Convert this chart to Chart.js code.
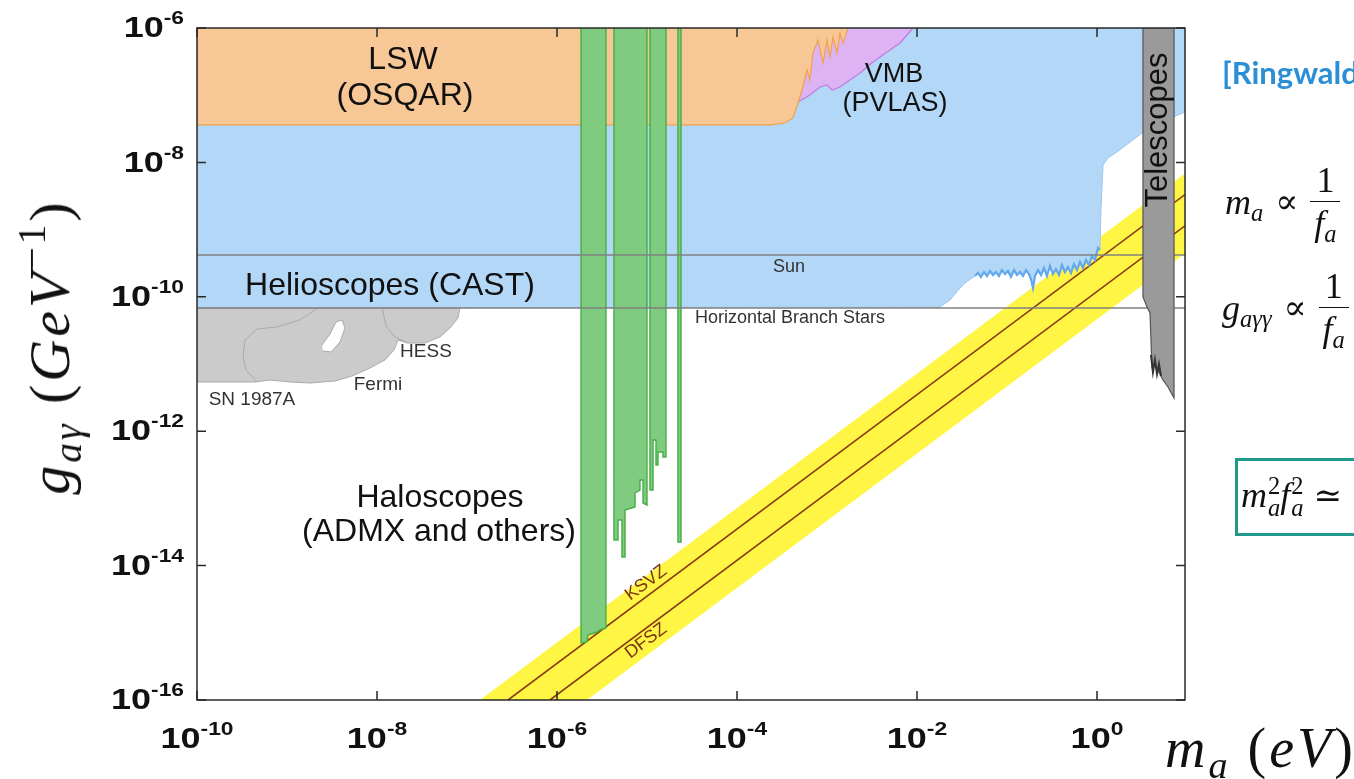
<!DOCTYPE html>
<html>
<head>
<meta charset="utf-8">
<script src="https://cdn.jsdelivr.net/npm/chart.js@4.4.1/dist/chart.umd.min.js"></script>
<style>
  html, body { margin: 0; padding: 0; background: #fff; }
  body { width: 1354px; height: 779px; overflow: hidden; position: relative; }
  #plot { position: absolute; left: 0; top: 0; }
  .math { position: absolute; font-family: "Liberation Serif", "DejaVu Serif", serif; font-style: italic; color: #111; white-space: nowrap; line-height: 1; }
  .up { font-style: normal; }
  .sub { font-size: 0.68em; position: relative; top: 0.3em; }
  .sup { font-size: 0.68em; position: relative; top: -0.6em; font-style: normal; }
  .ss { display: inline-flex; flex-direction: column; font-size: 0.68em; line-height: 0.9; vertical-align: 0.55em; margin-left: 1px; }
  .row { display: flex; align-items: center; font-size: 36px; }
  .rel { font-style: normal; margin: 0 12px; font-family: "DejaVu Serif", serif; font-size: 0.95em; }
  .frac { display: inline-flex; flex-direction: column; align-items: center; }
  .frac .num { font-style: normal; border-bottom: 1.6px solid #111; padding: 0 6px 3px; }
  .frac .den { padding-top: 3px; }
  #cite { position: absolute; left: 1222px; top: 57px; font: bold 31px "Lato", "Open Sans", sans-serif; line-height: 1; color: #2b8fd6; white-space: nowrap; }
  #box { position: absolute; left: 1235px; top: 458px; width: 150px; height: 72px; border: 3px solid #21998a; display: flex; align-items: center; font-size: 36px; }
  #ytitle { left: 50px; top: 347px; transform: translate(-50%, -50%) rotate(-90deg); font-size: 58px; letter-spacing: 3px; }
  #xtitle { left: 1165px; top: 720px; font-size: 56px; letter-spacing: 3px; }
</style>
</head>
<body>
<canvas id="plot" width="1354" height="779"></canvas>

<div id="ytitle" class="math">g<span class="sub">aγ</span> <span class="up">(</span>GeV<span class="sup">−1</span><span class="up">)</span></div>
<div id="xtitle" class="math">m<span class="sub">a</span> <span class="up">(</span>eV<span class="up">)</span></div>

<div id="cite">[Ringwald</div>
<div class="math row" style="left:1225px; top:162px;">
  <span>m<span class="sub">a</span></span>
  <span class="rel">∝</span>
  <span class="frac"><span class="num">1</span><span class="den">f<span class="sub">a</span></span></span>
</div>
<div class="math row" style="left:1222px; top:268px;">
  <span>g<span class="sub">aγγ</span></span>
  <span class="rel">∝</span>
  <span class="frac"><span class="num">1</span><span class="den">f<span class="sub">a</span></span></span>
</div>
<div id="box" class="math"><span style="padding-left:3px">m<span class="ss"><span class="up">2</span><span>a</span></span>f<span class="ss"><span class="up">2</span><span>a</span></span><span class="rel" style="margin:0 0 0 10px">≃</span></span></div>

<script>
// axis ranges, as powers of ten
const massRange = [-10, 0.978];
const couplingRange = [-16, -6];
const massTicks = [-10, -8, -6, -4, -2, 0];
const couplingTicks = [-16, -14, -12, -10, -8, -6];

// outlines: [log10 m_a (eV), log10 g (1/GeV)]
const lswEdge = [[-10, -6], [-10, -7.443], [-3.633, -7.443], [-3.467, -7.414], [-3.378, -7.339], [-3.322, -7.116],
  [-3.267, -6.878], [-3.222, -6.625], [-3.189, -6.774], [-3.156, -6.372], [-3.1, -6.179], [-3.044, -6.521],
  [-3.0, -6.179], [-2.967, -6.432], [-2.933, -6.134], [-2.889, -6.372], [-2.856, -6.074], [-2.822, -6.223], [-2.767, -6]];
const vmbEdge = [[-3.356, -6], [-3.322, -7.101], [-3.189, -6.997], [-3.078, -6.878], [-3.0, -6.848], [-2.944, -6.923],
  [-2.856, -6.878], [-2.778, -6.804], [-2.633, -6.67], [-2.489, -6.506], [-2.333, -6.357], [-2.189, -6.223], [-2.044, -6]];
const helioTop = [[-10, -6], [0.978, -6], [0.978, -7.25], [0.589, -7.473], [0.222, -7.845], [0.122, -7.935],
  [0.067, -8.039], [0.044, -8.708], [0.033, -9.304]];
const helioNoise = [[0.033, -9.304], [0.011, -9.274], [-0.022, -9.452], [-0.056, -9.393], [-0.089, -9.527], [-0.122, -9.452],
  [-0.156, -9.571], [-0.189, -9.482], [-0.222, -9.601], [-0.256, -9.512], [-0.289, -9.646], [-0.322, -9.557],
  [-0.356, -9.631], [-0.389, -9.527], [-0.422, -9.676], [-0.456, -9.586], [-0.489, -9.661], [-0.522, -9.542],
  [-0.556, -9.69], [-0.589, -9.571], [-0.622, -9.676], [-0.656, -9.601], [-0.689, -9.69], [-0.711, -9.869],
  [-0.733, -9.735], [-0.756, -9.661], [-0.789, -9.601], [-0.822, -9.69], [-0.856, -9.631], [-0.889, -9.676],
  [-0.922, -9.601], [-0.956, -9.705], [-0.989, -9.616], [-1.022, -9.661], [-1.056, -9.601], [-1.089, -9.69],
  [-1.122, -9.631], [-1.156, -9.676], [-1.189, -9.616], [-1.222, -9.69], [-1.256, -9.631], [-1.289, -9.705],
  [-1.322, -9.646], [-1.356, -9.69]];
const helioBottom = [[-1.467, -9.795], [-1.522, -9.869], [-1.633, -10.048], [-1.744, -10.152], [-10, -10.167]];
const astroEdge = [[-10, -10.167], [-7.078, -10.167], [-7.1, -10.315], [-7.189, -10.464], [-7.3, -10.598], [-7.467, -10.688],
  [-7.656, -10.688], [-7.767, -10.643], [-7.811, -10.792], [-7.911, -10.94], [-8.078, -11.06], [-8.278, -11.179],
  [-8.467, -11.253], [-8.744, -11.283], [-8.967, -11.268], [-9.189, -11.238], [-9.356, -11.268], [-10, -11.268]];
const astroHole = [[-8.6, -10.807], [-8.511, -10.821], [-8.411, -10.673], [-8.356, -10.464], [-8.389, -10.345],
  [-8.456, -10.375], [-8.522, -10.554], [-8.611, -10.717]];
const fermiOutline = [[-9.333, -11.268], [-9.456, -11.089], [-9.489, -10.896], [-9.467, -10.643], [-9.333, -10.479],
  [-9.111, -10.449], [-8.856, -10.345], [-8.656, -10.167]];
const hessOutline = [[-7.944, -10.167], [-7.9, -10.435], [-7.8, -10.598], [-7.656, -10.688]];
const haloBar1 = [[-5.733, -6], [-5.733, -15.152], [-5.667, -15.137], [-5.656, -15.033], [-5.556, -14.988],
  [-5.522, -14.958], [-5.456, -14.929], [-5.456, -6]];
const haloBar2 = [[-5.367, -6], [-5.367, -13.619], [-5.322, -13.619], [-5.322, -13.321], [-5.278, -13.321],
  [-5.278, -13.872], [-5.244, -13.872], [-5.244, -13.173], [-5.133, -13.128], [-5.133, -12.92], [-5.078, -12.875],
  [-5.078, -12.726], [-5.044, -12.726], [-5.044, -13.068], [-5.0, -13.098], [-5.0, -6]];
const haloBar3 = [[-4.967, -6], [-4.967, -12.875], [-4.933, -12.875], [-4.933, -12.131], [-4.9, -12.131],
  [-4.9, -12.503], [-4.878, -12.503], [-4.878, -12.31], [-4.822, -12.31], [-4.822, -12.384], [-4.789, -12.384], [-4.789, -6]];
const haloBar4 = [[-4.656, -6], [-4.656, -13.649], [-4.622, -13.649], [-4.622, -6]];
const modelBand = [[-6.856, -16], [0.978, -8.166], [0.978, -9.355], [-5.667, -16]];
const ksvzLine = [[-6.544, -16], [0.978, -8.478]];
const dfszLine = [[-6.078, -16], [0.978, -8.944]];
const sunLine = [[-10, -9.378], [0.978, -9.378]];
const hbLine = [[-10, -10.167], [0.978, -10.167]];
const telescopeEdge = [[0.511, -6], [0.856, -6], [0.856, -11.506], [0.789, -11.342], [0.733, -11.238], [0.678, -11.089],
  [0.644, -10.985], [0.611, -11.045], [0.589, -10.241], [0.556, -10.152], [0.511, -10.003], [0.511, -6]];
const telescopeTail = [[0.6, -10.866], [0.622, -11.119], [0.644, -10.94], [0.667, -11.149], [0.689, -11.0], [0.711, -11.179]];

const regionLabels = [
  { text: 'LSW', m: -7.711, g: -6.476, size: 32 },
  { text: '(OSQAR)', m: -7.689, g: -7.012, size: 32 },
  { text: 'VMB', m: -2.256, g: -6.699, size: 27 },
  { text: '(PVLAS)', m: -2.244, g: -7.131, size: 27 },
  { text: 'Helioscopes (CAST)', m: -7.856, g: -9.839, size: 32 },
  { text: 'Haloscopes', m: -7.3, g: -12.994, size: 32 },
  { text: '(ADMX and others)', m: -7.311, g: -13.5, size: 32 },
  { text: 'Sun', m: -3.422, g: -9.557, size: 18, color: '#333' },
  { text: 'Horizontal Branch Stars', m: -3.411, g: -10.315, size: 18, color: '#333' },
  { text: 'SN 1987A', m: -9.389, g: -11.536, size: 19, color: '#333' },
  { text: 'Fermi', m: -7.989, g: -11.313, size: 19, color: '#333' },
  { text: 'HESS', m: -7.456, g: -10.821, size: 19, color: '#333' },
  { text: 'KSVZ', m: -5.011, g: -14.259, size: 18, color: '#7a3510', along: ksvzLine },
  { text: 'DFSZ', m: -5.011, g: -15.122, size: 18, color: '#7a3510', along: dfszLine },
  { text: 'Telescopes', m: 0.678, g: -7.518, size: 31, rotate: -Math.PI / 2 }
];

const toPts = arr => arr.map(([m, g]) => ({ x: 10 ** m, y: 10 ** g }));

function area(arr, fill, line, width) {
  return { data: toPts(arr), showLine: true, fill: 'shape', backgroundColor: fill,
    borderColor: line, borderWidth: width, pointRadius: 0 };
}
function curve(arr, color, width) {
  return { data: toPts(arr), showLine: true, fill: false, borderColor: color,
    borderWidth: width, pointRadius: 0 };
}

// bottom first
const layers = [
  area(modelBand, '#fff544', '#fff544', 0),
  curve(ksvzLine, '#8b3a12', 1.6),
  curve(dfszLine, '#8b3a12', 1.6),
  area(helioTop.concat(helioNoise, helioBottom), '#b3d7f7', '#9cc6ee', 1),
  curve(helioNoise, '#62a8ee', 2.2),
  area(vmbEdge, '#deb3f3', '#c27be0', 1.2),
  area(lswEdge, '#f7c896', '#f2a04a', 1.2),
  area(astroEdge, '#cbcbcb', '#aaaaaa', 1),
  area(astroHole, '#ffffff', '#aaaaaa', 1),
  curve(fermiOutline, '#aaaaaa', 1),
  curve(hessOutline, '#aaaaaa', 1),
  area(haloBar1, '#7fcb7f', '#45ae45', 1.4),
  area(haloBar2, '#7fcb7f', '#45ae45', 1.4),
  area(haloBar3, '#7fcb7f', '#45ae45', 1.4),
  area(haloBar4, '#7fcb7f', '#45ae45', 1.4),
  curve(sunLine, '#808080', 1.6),
  curve(hbLine, '#808080', 1.6),
  area(telescopeEdge, '#9a9a9a', '#555555', 1.2),
  curve(telescopeTail, '#333333', 2)
];
layers.forEach((ds, i) => { ds.order = layers.length - i; });

const sans = '"Liberation Sans", Arial, sans-serif';

function drawPower(ctx, exp, x, y, align) {
  const sx = 1.2;
  ctx.font = 'bold 30px ' + sans;
  const wb = ctx.measureText('10').width;
  ctx.font = 'bold 19px ' + sans;
  const ws = ctx.measureText(String(exp)).width;
  const total = (wb + ws) * sx;
  const left = align === 'right' ? x - total : x - total / 2;
  ctx.save();
  ctx.translate(left, y);
  ctx.scale(sx, 1);
  ctx.textAlign = 'left';
  ctx.textBaseline = 'middle';
  ctx.fillStyle = '#111';
  ctx.font = 'bold 30px ' + sans;
  ctx.fillText('10', 0, 0);
  ctx.font = 'bold 19px ' + sans;
  ctx.fillText(String(exp), wb, -10);
  ctx.restore();
}

const decorations = {
  id: 'decorations',
  afterDatasetsDraw(chart) {
    const { ctx, scales: { x, y } } = chart;
    regionLabels.forEach(l => {
      ctx.save();
      ctx.translate(x.getPixelForValue(10 ** l.m), y.getPixelForValue(10 ** l.g));
      if (l.along) {
        const [a, b] = l.along;
        const dx = x.getPixelForValue(10 ** b[0]) - x.getPixelForValue(10 ** a[0]);
        const dy = y.getPixelForValue(10 ** b[1]) - y.getPixelForValue(10 ** a[1]);
        ctx.rotate(Math.atan2(dy, dx));
      } else if (l.rotate) {
        ctx.rotate(l.rotate);
      }
      ctx.font = l.size + 'px ' + sans;
      ctx.fillStyle = l.color || '#111';
      ctx.textAlign = 'center';
      ctx.textBaseline = 'middle';
      ctx.fillText(l.text, 0, 0);
      ctx.restore();
    });
  },
  afterDraw(chart) {
    const { ctx, chartArea: a, scales: { x, y } } = chart;
    ctx.save();
    ctx.strokeStyle = '#2a2a2a';
    ctx.lineWidth = 1.5;
    ctx.strokeRect(a.left, a.top, a.right - a.left, a.bottom - a.top);
    ctx.beginPath();
    massTicks.forEach(t => {
      const px = x.getPixelForValue(10 ** t);
      ctx.moveTo(px, a.bottom); ctx.lineTo(px, a.bottom - 9);
      ctx.moveTo(px, a.top); ctx.lineTo(px, a.top + 9);
    });
    couplingTicks.forEach(t => {
      const py = y.getPixelForValue(10 ** t);
      ctx.moveTo(a.left, py); ctx.lineTo(a.left + 9, py);
      ctx.moveTo(a.right, py); ctx.lineTo(a.right - 9, py);
    });
    ctx.stroke();
    ctx.restore();
    massTicks.forEach(t => drawPower(ctx, t, x.getPixelForValue(10 ** t), a.bottom + 40, 'center'));
    couplingTicks.forEach(t => drawPower(ctx, t, a.left - 13, y.getPixelForValue(10 ** t) + 1, 'right'));
  }
};

new Chart(document.getElementById('plot'), {
  type: 'scatter',
  data: { datasets: layers },
  options: {
    responsive: false,
    animation: false,
    layout: { padding: { left: 197, right: 169, top: 28, bottom: 79 } },
    plugins: { legend: { display: false }, tooltip: { enabled: false } },
    scales: {
      x: { type: 'logarithmic', display: false, min: 10 ** massRange[0], max: 10 ** massRange[1] },
      y: { type: 'logarithmic', display: false, min: 10 ** couplingRange[0], max: 10 ** couplingRange[1] }
    }
  },
  plugins: [decorations]
});
</script>
</body>
</html>
